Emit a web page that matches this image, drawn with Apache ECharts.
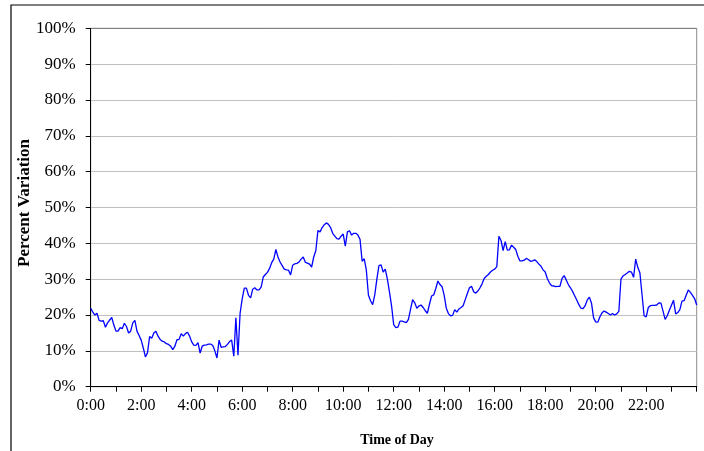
<!DOCTYPE html>
<html>
<head>
<meta charset="utf-8">
<script src="https://cdn.jsdelivr.net/npm/echarts@6/dist/echarts.min.js"></script>
<style>
html,body{margin:0;padding:0;background:#fff;}
#chart{width:704px;height:451px;}
</style>
</head>
<body>
<div id="chart"></div>
<script>
// Percent variation, 5-minute samples, split by 4-hour blocks
var block0_4 = [21.9,20.8,20.0,20.5,18.5,18.3,18.4,16.6,17.8,18.6,19.3,17.2,
  15.5,15.5,16.5,16.2,17.7,16.8,15.0,15.5,17.8,18.5,15.5,14.3,
  13.0,10.8,8.3,9.5,14.0,13.5,15.0,15.5,14.1,13.2,12.7,12.5,
  12.0,11.8,11.3,10.3,11.3,13.1,13.2,14.8,14.1,14.8,15.2,14.1];
var block4_8 = [12.5,11.6,11.5,12.3,9.4,11.3,11.6,11.7,11.9,11.9,11.5,10.0,
  8.0,13.0,11.0,11.1,11.2,11.8,12.6,13.0,8.5,19.2,8.8,20.5,
  24.5,27.5,27.5,25.5,24.8,27.2,27.6,27.0,27.0,27.8,30.6,31.3,
  31.9,33.0,34.6,35.6,38.3,36.2,34.8,33.8,32.8,32.6,32.5,31.2];
var block8_12 = [33.9,34.3,34.4,34.8,35.6,36.2,34.7,34.5,34.2,33.4,36.2,38.0,
  43.6,43.2,44.4,45.2,45.7,45.3,44.4,42.8,42.0,41.3,41.2,42.0,
  42.6,39.2,43.2,43.5,42.3,42.8,42.8,42.3,41.1,35.0,35.7,32.5,
  25.5,24.0,22.9,25.6,30.0,33.8,34.0,32.0,32.8,30.0,26.4,22.5];
var block12_16 = [17.3,16.5,16.6,18.3,18.3,18.1,17.9,18.8,21.6,24.3,23.4,21.9,
  22.5,22.8,22.1,21.2,20.5,23.0,25.3,25.6,27.4,29.5,28.5,27.9,
  25.5,21.9,20.4,19.8,19.9,21.5,20.8,21.7,22.1,22.6,24.3,26.0,
  27.6,28.0,26.5,26.1,26.7,27.6,28.7,30.2,30.8,31.3,32.0,32.5];
var block16_20 = [32.8,33.5,42.0,40.8,38.0,40.5,38.1,38.2,39.5,38.9,38.3,36.4,
  35.1,35.1,35.3,35.8,35.5,35.0,35.1,35.4,34.9,34.2,33.6,32.6,
  32.0,30.2,29.0,28.2,28.1,27.9,28.0,28.0,30.2,31.0,29.8,28.5,
  27.6,26.6,25.4,24.2,22.9,21.9,21.8,22.6,24.2,25.0,23.3,19.2];
var block20_24 = [18.1,18.0,19.5,20.6,21.1,20.8,20.4,20.0,20.4,20.0,20.3,21.0,
  30.0,30.9,31.3,31.7,32.2,32.0,30.5,35.6,33.3,31.8,25.8,19.8,
  19.5,22.1,22.6,22.7,22.7,22.8,23.4,23.3,21.1,18.8,19.8,21.3,
  22.7,24.1,20.3,20.7,21.5,23.9,24.0,25.5,27.0,26.3,25.5,24.6,22.8];

var values = [].concat(block0_4, block4_8, block8_12, block12_16, block16_20, block20_24);

// time-of-day categories (5-minute steps, 0:00 .. 24:00)
var categories = [];
for (var m = 0; m <= 24 * 60; m += 5) {
  var h = Math.floor(m / 60), mm = m % 60;
  categories.push(h + ':' + (mm < 10 ? '0' : '') + mm);
}

var yTickMax = 100, yTickStep = 10;
var xTitle = 'Time of Day';
var yTitle = 'Percent Variation';

var FONT = '"Liberation Serif", "Times New Roman", serif';
var chart = echarts.init(document.getElementById('chart'), null, {renderer: 'canvas'});
var splitColors = [];
for (var k = 0; k < 10; k++) splitColors.push('#c0c0c0');
splitColors.push('#808080');

chart.setOption({
  animation: false,
  backgroundColor: '#ffffff',
  grid: {
    left: 90.7, top: 28.3, right: 7.3, bottom: 64.3,
    show: true, borderColor: '#8c8c8c', borderWidth: 1, backgroundColor: 'transparent'
  },
  graphic: [
    { type: 'rect', z: -10, silent: true,
      shape: {x: 11, y: 5, width: 1200, height: 1200},
      style: {fill: 'none', stroke: '#000', lineWidth: 1.2} },
    { type: 'text', silent: true, x: 397, y: 440,
      style: {text: xTitle, font: 'bold 14px ' + FONT, fill: '#000', align: 'center', verticalAlign: 'middle'} },
    { type: 'text', silent: true, rotation: Math.PI / 2,
      x: 25, y: 203,
      style: {text: yTitle, font: 'bold 17px ' + FONT, fill: '#000', align: 'center', verticalAlign: 'middle'} }
  ],
  xAxis: {
    type: 'category',
    data: categories,
    boundaryGap: false,
    axisLine: {show: true, onZero: false, lineStyle: {color: '#000', width: 1}},
    axisTick: {show: true, length: 5, lineStyle: {color: '#000'},
      interval: function (i) { return i % 12 === 0; }},
    axisLabel: {
      interval: function (i) { return i % 24 === 0 && i < 288; },
      color: '#000', fontFamily: FONT, fontSize: 16, margin: 11
    },
    splitLine: {show: false}
  },
  yAxis: {
    type: 'value',
    min: 0, max: yTickMax, interval: yTickStep,
    axisLine: {show: true, lineStyle: {color: '#000', width: 1}},
    axisTick: {show: true, length: 5, lineStyle: {color: '#000'}},
    axisLabel: {
      formatter: function (v) { return v + '%'; },
      color: '#000', fontFamily: FONT, fontSize: 17, margin: 15
    },
    splitLine: {show: true, lineStyle: {color: splitColors, width: 1}}
  },
  series: [{
    type: 'line',
    data: values,
    symbol: 'none',
    lineStyle: {color: '#0000ff', width: 1.3},
    z: 3
  }]
});
</script>
</body>
</html>
